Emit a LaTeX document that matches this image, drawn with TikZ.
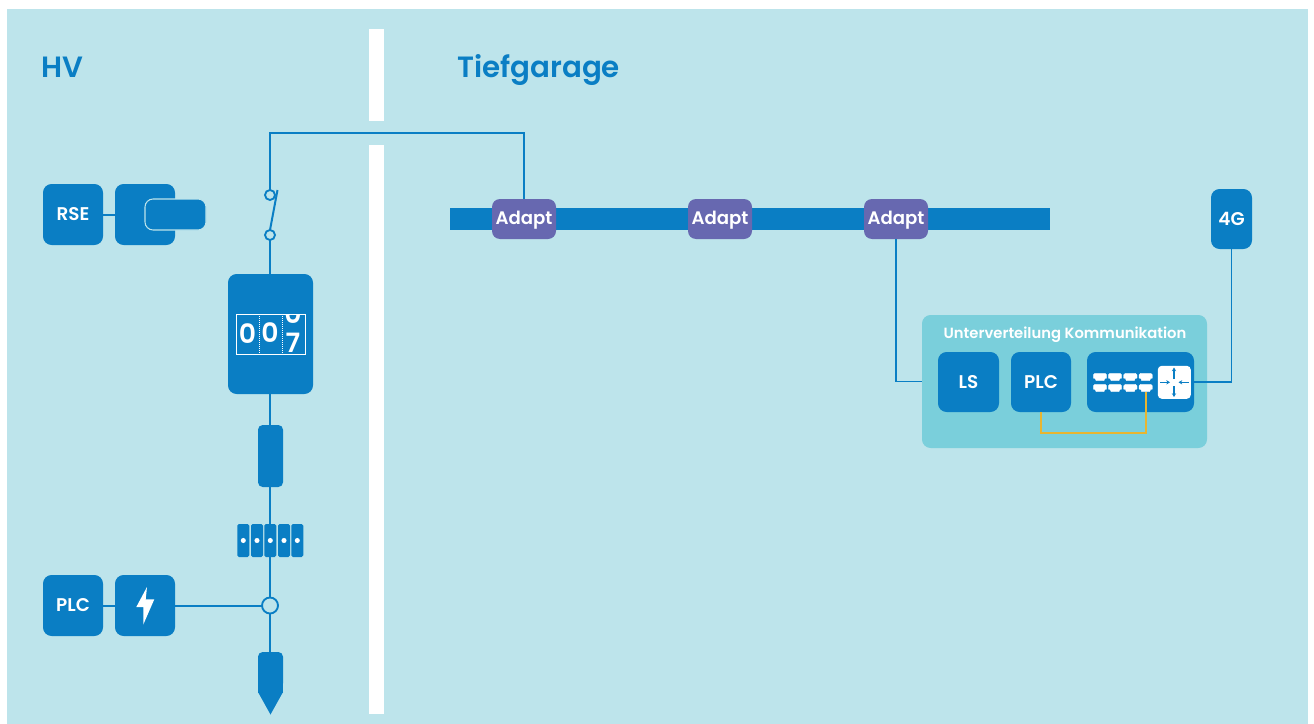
\documentclass[tikz,border=0pt]{standalone}
\usepackage{fontspec}
\setmainfont{Poppins}[BoldFont={Poppins SemiBold}]
\usetikzlibrary{arrows.meta}
\definecolor{bgc}{HTML}{BDE4EB}
\definecolor{blu}{HTML}{0A7EC4}
\definecolor{pur}{HTML}{6768B0}
\definecolor{tealb}{HTML}{7ACFDB}
\definecolor{yel}{HTML}{E8B530}
\definecolor{plugline}{HTML}{BDE4EB}
\tikzset{
  sz/.style 2 args={minimum width=#1*0.75pt,minimum height=#2*0.75pt,inner sep=0pt,outer sep=0pt},
  bluebox/.style={rectangle,rounded corners=6.5pt,fill=blu,text=white,font=\fontsize{13.8}{13.8}\selectfont\bfseries},
  adaptbox/.style={rectangle,rounded corners=6pt,fill=pur,text=white,sz={64}{40},text height=10pt,text depth=1.8pt,font=\fontsize{13.6}{13.6}\selectfont\bfseries},
  title/.style={text=blu,anchor=base west,inner sep=0pt,font=\fontsize{22}{22}\selectfont\bfseries},
  wire/.style={draw=blu,line width=1.5pt},
  thinwire/.style={draw=blu,line width=1.1pt},
  ywire/.style={draw=yel,line width=1.9pt},
  ring/.style={circle,draw=blu,line width=1.4pt,inner sep=0pt,outer sep=0pt},
  termblock/.style={rectangle,rounded corners=1.2pt,fill=blu,sz={12}{33}},
  termdot/.style={circle,fill=white,inner sep=0pt,minimum size=3.8pt},
  digit/.style={text=white,inner sep=0pt,font=\fontsize{20}{20}\selectfont\bfseries},
  whitebar/.style={rectangle,fill=white,inner sep=0pt},
  portshape/.style={fill=white,draw=white,line width=0.2pt,line join=round},
  rarrow/.style={draw=blu,line width=0.8pt,-{Stealth[length=2.8pt,width=3.2pt]}},
}
\begin{document}
\begin{tikzpicture}[x=0.75pt,y=-0.75pt]
\useasboundingbox (0,0) rectangle (1314,724);
\fill[bgc] (7,9) rectangle (1308,723.5);
% white dividers
\node[whitebar,sz={15}{92}] (div1) at (376.5,75) {};
\node[whitebar,sz={15}{569}] (div2) at (376.5,429.5) {};
% titles
\node[title] (thv) at (41,78) {HV};
\node[title] (ttg) at (457,78) {Tiefgarage};
% left column boxes
\node[bluebox,sz={60}{61}] (rse) at (73,214.5) {RSE};
\node[bluebox,sz={60}{61}] (ev) at (145,214.5) {};
\node[rectangle,rounded corners=6pt,fill=blu,draw=plugline,line width=0.8pt,sz={61}{31}] (plug) at (175.5,214.5) {};
\node[bluebox,sz={60}{61}] (plcl) at (73,605.5) {PLC};
\node[bluebox,sz={60}{61}] (surge) at (145,605.5) {};
\fill[white] (147,587) -- (136.3,607) -- (143.3,607) -- (143.3,624.5) -- (154.3,599.3) -- (145.7,599.3) -- cycle;
% switch
\node[ring,minimum size=7.5pt] (sw1) at (270,195) {};
\node[ring,minimum size=7.5pt] (sw2) at (270,235) {};
\coordinate (bladeend) at (277.5,190);
% meter
\node[bluebox,sz={85}{120}] (meter) at (270.5,334) {};
\node[sz={69}{40},draw=white,line width=0.6pt] (counter) at (270.5,334) {};
\begin{scope}
\clip (236,314) rectangle (305,354);
\node[digit] (d1) at (247.5,333.5) {0};
\node[digit] (d2) at (270,333) {0};
\node[digit] (d3) at (293,313.5) {0};
\node[digit] (d4) at (293,342.5) {7};
\end{scope}
\draw[white,line width=0.5pt,densely dotted] (259,314) -- (259,354) (282,314) -- (282,354);
% fuse
\node[rectangle,rounded corners=3.5pt,fill=blu,sz={25}{62}] (fuse) at (270.5,456) {};
% terminal
\node[termblock] (t1) at (243.3,540.5) {};
\node[termblock] (t2) at (257,540.5) {};
\node[termblock] (t3) at (270.3,540.5) {};
\node[termblock] (t4) at (284,540.5) {};
\node[termblock] (t5) at (297.3,540.5) {};
\foreach \n in {1,...,5} \node[termdot] (td\n) at (t\n) {};
% junction
\node[ring,fill=bgc,minimum size=12pt] (junc) at (270,605.5) {};
% ground
\node[rectangle,rounded corners=3.5pt,fill=blu,sz={25}{36}] (gnd) at (270.5,670) {};
\fill[blu] (258,680) rectangle (283,692.5);
\fill[blu] (258,692) -- (283,692) -- (270.5,714.5) -- cycle;
% bus
\node[rectangle,fill=blu,sz={600}{22}] (bus) at (750,219) {};
\node[adaptbox] (a1) at (524,219) {Adapt};
\node[adaptbox] (a2) at (720,219) {Adapt};
\node[adaptbox] (a3) at (896,219) {Adapt};
% 4G
\node[bluebox,sz={41}{60}] (fg) at (1231.5,219) {4G};
% sub distribution
\node[rectangle,rounded corners=6.5pt,fill=tealb,sz={285}{133}] (ukbox) at (1064.5,381.5) {};
\node[text=white,inner sep=0pt,font=\fontsize{11.1}{11}\selectfont\bfseries] (uklab) at (1065,334.5) {Unterverteilung Kommunikation};
\node[bluebox,sz={61}{60}] (ls) at (968.5,382) {LS};
\node[bluebox,sz={60}{60}] (plcr) at (1041,382) {PLC};
\node[bluebox,sz={107}{60}] (swi) at (1140.5,382) {};
\node[rectangle,rounded corners=3pt,fill=white,sz={33}{33}] (router) at (1174.3,382.3) {};
% ports
\foreach \x in {1093.3,1108.3,1123.6,1139}{
  \foreach \y in {373.3,384.3}{
    \fill[portshape] (\x,\y+1.6) arc[start angle=180,end angle=90,radius=1.2pt] -- (\x+11.8,\y) arc[start angle=90,end angle=0,radius=1.2pt] -- (\x+13.4,\y+4.8) -- (\x+11.6,\y+5.2) -- (\x+10.6,\y+7.4) -- (\x+2.8,\y+7.4) -- (\x+1.8,\y+5.2) -- (\x,\y+4.8) -- cycle;
  }
}
\coordinate (port) at (1146,391.5);
% router arrows
\draw[rarrow] (1174,379) -- (1174,367.5);
\draw[rarrow] (1174,386) -- (1174,397);
\draw[rarrow] (1160,382.3) -- (1170,382.3);
\draw[rarrow] (1188.5,382.3) -- (1178.5,382.3);
% connectors
\draw[wire] (rse) -- (ev);
\coordinate (topcorner) at (524,133);
\draw[thinwire] (sw1.north) |- (topcorner) -- (a1.north);
\draw[wire] (sw2.north) -- (bladeend);
\draw[wire] (sw2.south) -- (sw2.south |- meter.north);
\draw[wire] (meter.south -| sw2.south) -- (fuse.north -| sw2.south);
\draw[wire] (fuse.south -| sw2.south) -- (t3.north -| sw2.south);
\draw[wire] (t3.south -| junc.north) -- (junc.north);
\draw[wire] (junc.south) -- (junc.south |- gnd.north);
\draw[wire] (plcl) -- (surge);
\draw[wire] (surge) -- (junc);
\draw[thinwire] (a3.south) |- (ukbox.west);
\draw[thinwire] (swi.east) -| (fg.south);
\draw[ywire] (plcr.south) |- (1146,433) -- (port);
\end{tikzpicture}
\end{document}
